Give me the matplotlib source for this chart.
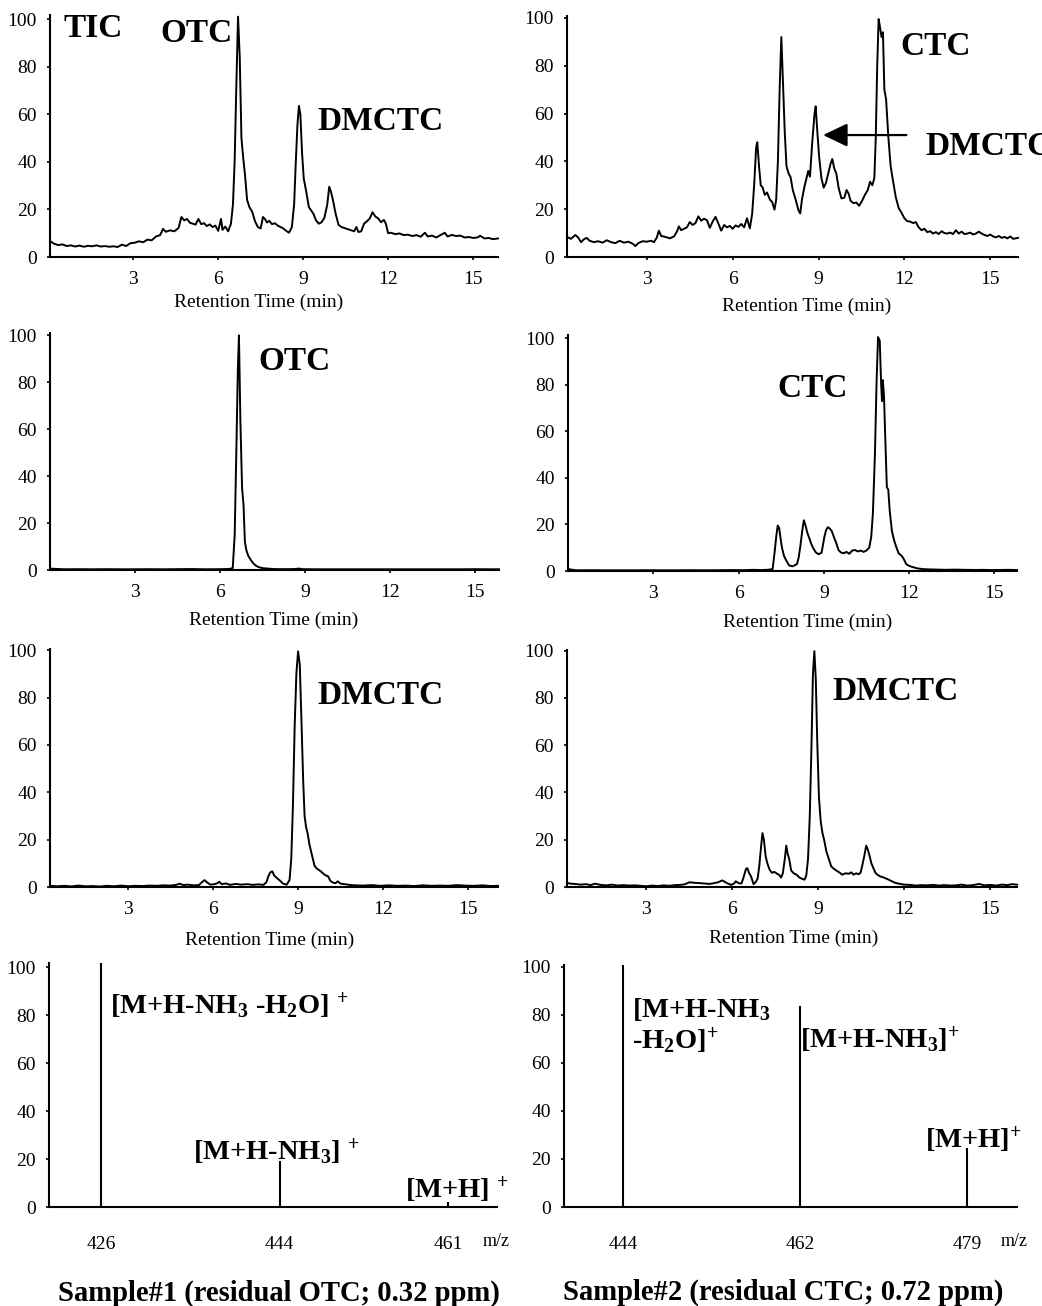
import matplotlib
matplotlib.use("Agg")
import matplotlib.pyplot as plt

plt.rcParams['font.family'] = ['Liberation Serif', 'DejaVu Serif']
plt.rcParams['mathtext.fontset'] = 'custom'
plt.rcParams['mathtext.rm'] = 'Liberation Serif'
plt.rcParams['mathtext.bf'] = 'Liberation Serif:bold'
plt.rcParams['mathtext.it'] = 'Liberation Serif:italic'

# ---------------- data (time in min, relative intensity %) ----------------
tic_sample1 = [(0.06,6.7),(0.2,5.6),(0.35,5.0),(0.5,5.3),(0.65,4.6),(0.8,4.9),(0.95,4.4),(1.1,4.8),(1.25,4.3),(1.4,4.7),(1.55,4.5),(1.7,4.9),(1.85,4.4),(2.0,4.6),(2.15,4.3),(2.3,4.5),(2.45,4.2),(2.6,5.2),(2.75,4.6),(2.9,5.8),(3.05,6.0),(3.2,6.6),(3.35,6.2),(3.5,7.3),(3.65,7.0),(3.8,8.6),(3.95,9.2),(4.05,11.8),(4.15,10.6),(4.3,11.2),(4.45,10.8),(4.6,12.2),(4.7,16.8),(4.8,15.4),(4.9,16.0),(5.0,14.4),(5.1,14.0),(5.2,13.6),(5.3,16.0),(5.4,13.8),(5.5,14.2),(5.6,13.0),(5.7,13.7),(5.8,12.6),(5.9,13.2),(6.0,11.0),(6.05,13.5),(6.1,16.0),(6.15,11.4),(6.25,12.8),(6.35,10.8),(6.45,14.0),(6.52,22),(6.58,40),(6.64,72),(6.7,101),(6.76,84),(6.82,50),(6.88,42),(6.95,34),(7.02,24),(7.1,21),(7.2,19),(7.3,15),(7.4,12.6),(7.5,12.0),(7.58,16.8),(7.65,16.0),(7.72,14.5),(7.8,15.2),(7.9,13.8),(8.0,14.2),(8.1,13.2),(8.2,12.6),(8.3,12.0),(8.4,11.0),(8.5,10.2),(8.6,12.5),(8.68,22),(8.74,40),(8.8,56),(8.85,63.5),(8.9,60),(8.96,44),(9.02,33),(9.1,28),(9.2,21),(9.28,19.6),(9.36,18.2),(9.45,15.5),(9.55,14.0),(9.65,14.6),(9.75,16.5),(9.85,22),(9.92,29.5),(9.98,27.5),(10.05,24),(10.15,18),(10.25,13.5),(10.35,12.6),(10.5,12.0),(10.65,11.4),(10.8,10.8),(10.88,12.6),(10.95,10.5),(11.05,10.8),(11.15,14.0),(11.25,15.0),(11.35,16.2),(11.45,18.8),(11.55,17.0),(11.65,16.2),(11.75,14.6),(11.85,15.6),(11.92,14.0),(12.0,10.0),(12.1,10.2),(12.25,9.6),(12.4,9.9),(12.55,9.2),(12.7,9.4),(12.85,8.8),(13.0,9.2),(13.15,8.5),(13.3,10.2),(13.4,8.6),(13.55,9.0),(13.7,8.2),(13.85,9.2),(14.0,10.2),(14.1,8.6),(14.25,9.3),(14.4,8.8),(14.55,9.0),(14.7,8.2),(14.85,8.4),(15.0,8.0),(15.15,8.2),(15.25,8.9),(15.4,7.8),(15.55,8.0),(15.7,7.5),(15.88,7.8)]

tic_sample2 = [(0.21,8.4),(0.35,7.6),(0.5,9.2),(0.6,8.2),(0.7,6.2),(0.8,7.4),(0.9,8.0),(1.0,6.8),(1.15,6.2),(1.3,6.6),(1.45,6.0),(1.6,7.0),(1.75,6.2),(1.9,5.8),(2.05,6.8),(2.2,6.0),(2.35,6.4),(2.5,5.6),(2.6,4.6),(2.7,5.8),(2.85,6.6),(3.0,6.4),(3.15,6.8),(3.25,6.2),(3.35,8.2),(3.42,11.0),(3.5,8.8),(3.65,8.4),(3.8,7.8),(3.95,8.6),(4.05,10.6),(4.12,12.8),(4.2,11.2),(4.3,11.8),(4.4,12.4),(4.5,14.6),(4.6,13.4),(4.7,14.2),(4.8,17.0),(4.9,15.2),(5.0,16.0),(5.1,15.4),(5.2,12.2),(5.3,14.8),(5.4,16.8),(5.5,14.0),(5.6,11.0),(5.7,13.4),(5.8,12.4),(5.9,13.0),(6.0,11.8),(6.1,13.2),(6.2,12.6),(6.3,13.8),(6.4,12.4),(6.5,16.2),(6.6,12.0),(6.68,18),(6.75,30),(6.82,46),(6.86,48),(6.92,38),(6.98,30),(7.05,29),(7.12,26),(7.2,27),(7.3,24),(7.38,23),(7.46,19.8),(7.52,24),(7.58,40),(7.64,70),(7.7,92),(7.76,72),(7.82,52),(7.88,38),(7.95,35),(8.02,33.5),(8.1,28),(8.2,24),(8.3,19.5),(8.36,18.2),(8.42,24),(8.5,29),(8.58,33),(8.64,36),(8.7,33.6),(8.78,48),(8.86,60),(8.9,63),(8.96,52),(9.02,42),(9.1,33),(9.18,29),(9.26,31),(9.34,35),(9.42,39),(9.48,41),(9.55,37),(9.62,35),(9.7,29),(9.8,24.5),(9.9,24.8),(9.98,28),(10.05,26.5),(10.12,23.5),(10.22,22.5),(10.32,22.8),(10.42,21.4),(10.52,23.5),(10.62,26),(10.72,28),(10.8,31.5),(10.88,30),(10.95,33),(11.0,50),(11.05,80),(11.1,99.5),(11.15,96),(11.2,92),(11.25,94),(11.3,70),(11.36,66),(11.44,50),(11.52,38),(11.6,32),(11.7,25),(11.8,20.5),(11.9,18.5),(12.0,16.2),(12.1,15.0),(12.2,14.8),(12.3,14.2),(12.4,14.6),(12.5,12.4),(12.6,11.2),(12.7,11.8),(12.8,10.4),(12.9,10.8),(13.0,9.8),(13.1,10.4),(13.2,9.6),(13.3,10.8),(13.4,10.0),(13.5,9.8),(13.6,10.2),(13.7,9.6),(13.8,11.2),(13.9,9.8),(14.0,10.6),(14.1,9.6),(14.2,9.8),(14.3,10.2),(14.4,9.4),(14.5,9.8),(14.6,10.6),(14.7,9.8),(14.8,9.2),(14.9,8.8),(15.0,9.4),(15.1,8.6),(15.2,8.2),(15.3,8.8),(15.4,8.0),(15.5,8.4),(15.6,7.8),(15.7,8.6),(15.8,7.6),(15.97,8.0)]

otc_sample1 = [(0.0,0.6),(0.5,0.3),(1.0,0.35),(1.5,0.3),(2.0,0.35),(2.5,0.3),(3.0,0.3),(3.5,0.35),(4.0,0.3),(4.5,0.35),(5.0,0.4),(5.5,0.3),(6.0,0.35),(6.2,0.4),(6.35,0.5),(6.45,0.8),(6.52,15),(6.58,52),(6.63,85),(6.67,100),(6.72,64),(6.78,35),(6.83,28),(6.88,12),(6.93,8.5),(7.0,6.0),(7.08,4.5),(7.15,3.2),(7.25,2.0),(7.35,1.3),(7.5,0.8),(7.7,0.6),(7.9,0.4),(8.2,0.35),(8.6,0.4),(8.8,0.6),(8.9,0.35),(9.5,0.3),(10.0,0.3),(10.5,0.3),(11.0,0.3),(11.5,0.3),(12.0,0.3),(12.5,0.3),(13.0,0.3),(13.5,0.3),(14.0,0.3),(14.5,0.3),(15.0,0.35),(15.5,0.3),(15.85,0.3)]

ctc_sample2 = [(0.0,0.8),(0.3,0.3),(0.8,0.35),(1.3,0.3),(1.8,0.3),(2.3,0.3),(2.8,0.35),(3.3,0.3),(3.8,0.3),(4.3,0.35),(4.8,0.3),(5.3,0.35),(5.8,0.4),(6.2,0.35),(6.5,0.5),(6.8,0.4),(7.0,0.5),(7.2,0.8),(7.27,8),(7.33,15),(7.38,19.5),(7.43,18.5),(7.48,14),(7.53,10),(7.6,6.5),(7.68,4.5),(7.78,2.4),(7.9,2.0),(8.0,2.6),(8.06,3.0),(8.12,6),(8.18,11),(8.24,17),(8.3,21.8),(8.36,19.5),(8.42,16.5),(8.48,14.5),(8.55,12),(8.62,10),(8.72,8),(8.82,7.2),(8.92,7.8),(8.97,11),(9.02,14.6),(9.08,17.5),(9.14,18.8),(9.2,18.4),(9.28,17.2),(9.36,14.5),(9.44,12),(9.52,9),(9.6,8),(9.7,7.6),(9.8,8.2),(9.9,7.4),(10.0,8.8),(10.1,9.0),(10.2,8.4),(10.3,8.8),(10.4,8.2),(10.5,8.8),(10.6,10.0),(10.67,14.6),(10.73,25),(10.8,50),(10.86,82),(10.91,100.5),(10.97,99),(11.02,80),(11.05,73),(11.08,82),(11.12,75),(11.17,55),(11.22,36),(11.27,35),(11.32,26),(11.4,17),(11.48,13),(11.56,10),(11.64,7.5),(11.72,6.8),(11.8,5.5),(11.9,3.0),(12.0,2.2),(12.15,1.6),(12.3,1.1),(12.5,0.8),(12.7,0.7),(13.0,0.6),(13.3,0.5),(13.6,0.6),(14.0,0.5),(14.3,0.45),(14.6,0.5),(14.9,0.4),(15.2,0.45),(15.5,0.5),(15.8,0.4)]

dmctc_sample1 = [(0.24,0.5),(0.5,0.3),(0.75,0.5),(1.0,0.25),(1.25,0.6),(1.5,0.3),(1.75,0.4),(2.0,0.2),(2.25,0.5),(2.5,0.3),(2.75,0.6),(3.0,0.3),(3.25,0.5),(3.5,0.4),(3.75,0.6),(4.0,0.5),(4.25,0.7),(4.5,0.6),(4.7,0.9),(4.82,1.4),(4.95,0.8),(5.1,1.0),(5.3,0.7),(5.5,0.8),(5.62,2.2),(5.7,2.9),(5.78,2.0),(5.9,1.0),(6.05,1.2),(6.15,1.6),(6.22,2.2),(6.3,1.2),(6.45,1.5),(6.6,0.9),(6.8,1.3),(7.0,1.0),(7.2,1.2),(7.4,0.9),(7.6,1.1),(7.78,0.9),(7.88,2.0),(7.95,4.5),(8.02,6.2),(8.09,6.6),(8.16,4.8),(8.25,3.8),(8.35,2.8),(8.47,1.4),(8.6,1.0),(8.7,3.0),(8.76,12),(8.82,35),(8.88,68),(8.94,90),(9.0,99.5),(9.06,94),(9.12,70),(9.18,45),(9.23,30),(9.28,25.5),(9.34,22.5),(9.4,18),(9.46,15),(9.52,12),(9.58,9),(9.66,7.8),(9.76,7.0),(9.86,6.0),(9.96,5.0),(10.06,4.5),(10.14,2.6),(10.24,1.8),(10.32,1.6),(10.4,2.4),(10.5,1.4),(10.65,1.2),(10.8,0.9),(11.0,0.7),(11.3,0.6),(11.6,0.8),(11.9,0.5),(12.2,0.7),(12.5,0.5),(12.8,0.6),(13.1,0.4),(13.4,0.7),(13.7,0.5),(14.0,0.6),(14.3,0.5),(14.6,0.8),(14.9,0.6),(15.2,0.5),(15.5,0.7),(15.8,0.4),(16.06,0.5)]

dmctc_sample2 = [(0.23,1.8),(0.35,1.4),(0.5,1.3),(0.7,1.0),(0.9,1.2),(1.05,0.8),(1.2,1.4),(1.4,0.9),(1.6,0.7),(1.8,1.0),(2.0,0.6),(2.2,0.8),(2.4,0.6),(2.6,0.7),(2.8,0.5),(3.0,0.3),(3.2,0.6),(3.4,0.4),(3.6,0.7),(3.8,0.5),(4.0,0.8),(4.2,0.9),(4.35,1.2),(4.5,2.0),(4.65,1.8),(4.8,1.7),(5.0,1.5),(5.2,1.3),(5.35,1.6),(5.5,2.0),(5.65,2.8),(5.8,1.7),(5.95,0.9),(6.05,1.4),(6.12,2.4),(6.22,1.6),(6.32,1.5),(6.4,4.5),(6.47,7.5),(6.52,8.0),(6.58,6.0),(6.65,4.5),(6.74,1.2),(6.82,2.2),(6.88,3.5),(6.94,9),(7.0,17),(7.05,22.8),(7.1,20),(7.16,13),(7.22,10),(7.3,7.3),(7.38,6.0),(7.46,6.4),(7.56,5.6),(7.64,5.0),(7.7,4.0),(7.76,5.8),(7.83,12),(7.88,17.5),(7.93,14),(7.98,12),(8.05,7),(8.14,5.8),(8.24,5.2),(8.34,4.0),(8.44,3.4),(8.52,3.1),(8.58,5),(8.64,12),(8.7,30),(8.76,60),(8.81,90),(8.86,99.8),(8.91,88),(8.96,62),(9.02,38),(9.08,28),(9.14,23),(9.2,20),(9.28,15),(9.36,12),(9.45,8.7),(9.55,7.6),(9.65,6.8),(9.75,6.0),(9.83,5.2),(9.95,5.8),(10.06,5.6),(10.15,6.2),(10.23,5.2),(10.32,5.8),(10.4,5.4),(10.47,6.0),(10.53,9),(10.6,13),(10.67,17.5),(10.72,16),(10.78,13.5),(10.85,10),(10.92,8.0),(10.99,6.0),(11.08,5.0),(11.16,4.5),(11.28,4.0),(11.4,3.4),(11.55,2.5),(11.69,1.7),(11.85,1.3),(11.98,1.0),(12.2,0.9),(12.4,0.6),(12.6,0.8),(12.8,0.7),(13.0,0.9),(13.2,0.6),(13.4,0.8),(13.6,0.6),(13.8,0.7),(14.0,1.0),(14.2,0.6),(14.4,0.8),(14.6,1.3),(14.8,0.7),(15.0,0.9),(15.2,0.6),(15.4,1.0),(15.6,0.8),(15.75,1.2),(15.93,1.0)]

ms1_mz = [426, 444, 461]
ms1_int = [101.5, 19, 2.2]
ms2_mz = [444, 462, 479]
ms2_int = [100.8, 83.7, 24.6]

rt_ticks = [3, 6, 9, 12, 15]
y_ticks = [0, 20, 40, 60, 80, 100]

# ---------------- layout helpers ----------------
W, H = 1042, 1306
fig = plt.figure(figsize=(W / 100, H / 100), dpi=100)


def make_ax(L, R, B, T):
    return fig.add_axes([L / W, 1 - B / H, (R - L) / W, (B - T) / H])


def fx(x):
    return x / W


def fy(y):
    return 1 - y / H


def style(ax, xlim, ylim, xticks, xpad=8.0, xlen=2.0):
    ax.set_xlim(*xlim)
    ax.set_ylim(*ylim)
    for s in ('top', 'right'):
        ax.spines[s].set_visible(False)
    for s in ('left', 'bottom'):
        ax.spines[s].set_linewidth(1.5)
    ax.set_xticks(xticks)
    ax.set_yticks(y_ticks)
    ax.tick_params(axis='x', direction='out', length=xlen, width=1.2,
                   pad=xpad, labelsize=14)
    ax.tick_params(axis='y', direction='out', length=2.0, width=1.2,
                   pad=7.5, labelsize=14)
    ax.patch.set_alpha(0)


LINE = dict(color='black', lw=1.4)
BIG = dict(fontsize=24, fontweight='bold', ha='left', va='baseline')
ION = dict(fontsize=20.5, fontweight='bold', ha='left', va='baseline')

chrom_panels = [
    # data, axes box (L, R, B, T), xlim, ylim, xlabel centre (x, y)
    (tic_sample1, (50, 498, 257, 15), (0.06, 15.88), (0, 101.7), (259, 302)),
    (tic_sample2, (567, 1018, 257, 16), (0.21, 15.97), (0, 100.8), (807, 306)),
    (otc_sample1, (50, 499, 570, 333), (0.0, 15.85), (0, 101.0), (274, 620)),
    (ctc_sample2, (568, 1017, 571, 335), (0.0, 15.80), (0, 101.4), (808, 622)),
    (dmctc_sample1, (50, 498, 887, 649), (0.24, 16.06), (0, 100.5), (270, 940)),
    (dmctc_sample2, (567, 1017, 887, 650), (0.23, 15.93), (0, 100.3), (794, 938)),
]

axes = []
for data, box, xlim, ylim, (lx, ly) in chrom_panels:
    ax = make_ax(*box)
    t = [p[0] for p in data]
    v = [p[1] for p in data]
    ax.plot(t, v, **LINE, clip_on=False)
    style(ax, xlim, ylim, rt_ticks)
    L, R, B, T = box
    ax.set_xlabel('Retention Time (min)', fontsize=14)
    ax.xaxis.set_label_coords((lx - L) / (R - L), (B - ly) / (B - T))
    ax.xaxis.label.set_va('center')
    axes.append(ax)

# arrow on the sample-2 TIC
axes[1].annotate('', xy=(9.16, 51), xytext=(12.07, 51),
                 arrowprops=dict(arrowstyle='-|>,head_length=0.75,head_width=0.36',
                                 color='black', lw=1.6, mutation_scale=20,
                                 shrinkA=0, shrinkB=0))

# mass spectra
ms_panels = [
    (ms1_mz, ms1_int, (49, 497, 1207, 963), (420.75, 465.9), (0, 101.7)),
    (ms2_mz, ms2_int, (564, 1017, 1207, 965), (438.0, 484.1), (0, 100.8)),
]
for mz, inten, box, xlim, ylim in ms_panels:
    ax = make_ax(*box)
    ax.vlines(mz, 0, inten, color='black', lw=1.5)
    style(ax, xlim, ylim, mz, xpad=21, xlen=0)

# big compound labels
fig.text(fx(63), fy(37), 'TIC', **BIG)
fig.text(fx(160), fy(42), 'OTC', **BIG)
fig.text(fx(317), fy(130), 'DMCTC', **BIG)
fig.text(fx(900), fy(55), 'CTC', **BIG)
fig.text(fx(925), fy(155), 'DMCTC', **BIG)
fig.text(fx(258), fy(370), 'OTC', **BIG)
fig.text(fx(777), fy(397), 'CTC', **BIG)
fig.text(fx(317), fy(704), 'DMCTC', **BIG)
fig.text(fx(832), fy(700), 'DMCTC', **BIG)

# ion labels
fig.text(fx(110), fy(1013), r'[M+H-NH$_{\mathbf{3}}$ -H$_{\mathbf{2}}$O] $^{\mathbf{+}}$', **ION)
fig.text(fx(193), fy(1159), r'[M+H-NH$_{\mathbf{3}}$] $^{\mathbf{+}}$', **ION)
fig.text(fx(405), fy(1197), r'[M+H] $^{\mathbf{+}}$', **ION)
fig.text(fx(632), fy(1017), r'[M+H-NH$_{\mathbf{3}}$', **ION)
fig.text(fx(632), fy(1048), r'-H$_{\mathbf{2}}$O]$^{\mathbf{+}}$', **ION)
fig.text(fx(800), fy(1047), r'[M+H-NH$_{\mathbf{3}}$]$^{\mathbf{+}}$', **ION)
fig.text(fx(925), fy(1147), r'[M+H]$^{\mathbf{+}}$', **ION)

# m/z units
fig.text(fx(496), fy(1242), 'm/z', fontsize=13, ha='center', va='center')
fig.text(fx(1014), fy(1242), 'm/z', fontsize=13, ha='center', va='center')

# sample titles
fig.text(fx(279), fy(1293), 'Sample#1 (residual OTC; 0.32 ppm)',
         fontsize=20.6, fontweight='bold', ha='center', va='center')
fig.text(fx(783), fy(1292), 'Sample#2 (residual CTC; 0.72 ppm)',
         fontsize=20.6, fontweight='bold', ha='center', va='center')

fig.savefig('out.png', dpi=100, facecolor='white')
